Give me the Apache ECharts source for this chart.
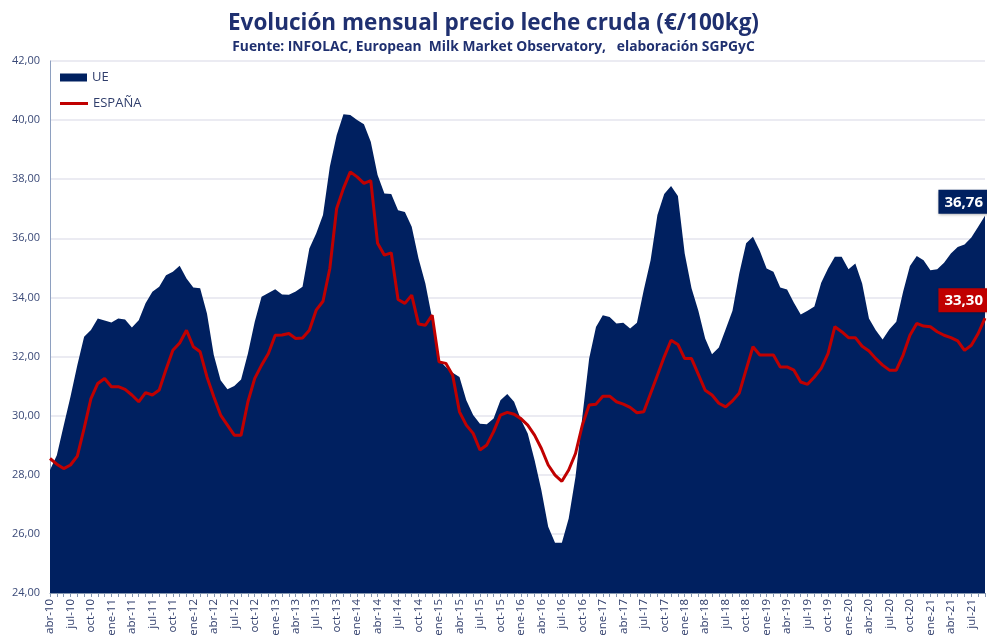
<!DOCTYPE html>
<html>
<head>
<meta charset="utf-8">
<script src="https://cdn.jsdelivr.net/npm/echarts@6/dist/echarts.min.js"></script>
<style>
  html, body { margin: 0; padding: 0; background: #fff; }
  #chart { width: 987px; height: 639px; }
</style>
</head>
<body>
<div id="chart"></div>
<script>
// meses desde abr-10 hasta sep-21
var mesesNombre = ['ene', 'feb', 'mar', 'abr', 'may', 'jun', 'jul', 'ago', 'sep', 'oct', 'nov', 'dic'];
var inicioAnio = 2010, inicioMes = 3, numMeses = 138;

var ue = [
  28.16, 28.66, 29.66, 30.64, 31.71, 32.67, 32.90, 33.29, 33.22, 33.15,
  33.29, 33.25, 32.98, 33.23, 33.80, 34.19, 34.36, 34.75, 34.87, 35.07,
  34.64, 34.34, 34.31, 33.46, 32.05, 31.20, 30.89, 31.00, 31.22, 32.10,
  33.18, 34.02, 34.15, 34.28, 34.10, 34.09, 34.20, 34.36, 35.66, 36.16,
  36.79, 38.42, 39.49, 40.20, 40.17, 40.00, 39.86, 39.27, 38.14, 37.52,
  37.50, 36.95, 36.89, 36.39, 35.32, 34.47, 33.29, 31.88, 31.65, 31.45,
  31.31, 30.52, 30.02, 29.73, 29.71, 29.90, 30.52, 30.73, 30.47, 29.87,
  29.40, 28.50, 27.48, 26.24, 25.70, 25.70, 26.52, 27.93, 29.96, 31.93,
  33.00, 33.40, 33.34, 33.12, 33.14, 32.95, 33.14, 34.25, 35.26, 36.79,
  37.50, 37.77, 37.43, 35.49, 34.31, 33.55, 32.61, 32.08, 32.31, 32.92,
  33.55, 34.82, 35.83, 36.05, 35.58, 34.98, 34.87, 34.34, 34.27, 33.82,
  33.42, 33.55, 33.69, 34.50, 34.98, 35.38, 35.38, 34.95, 35.15, 34.47,
  33.29, 32.89, 32.58, 32.92, 33.18, 34.19, 35.06, 35.40, 35.26, 34.92,
  34.95, 35.17, 35.49, 35.71, 35.79, 36.03, 36.39, 36.76
];

var espana = [
  28.55, 28.36, 28.21, 28.33, 28.63, 29.57, 30.58, 31.09, 31.26, 30.98,
  30.98, 30.89, 30.70, 30.47, 30.78, 30.70, 30.87, 31.56, 32.21, 32.46,
  32.89, 32.33, 32.16, 31.31, 30.64, 30.02, 29.68, 29.34, 29.34, 30.47,
  31.26, 31.71, 32.10, 32.72, 32.73, 32.78, 32.61, 32.63, 32.89, 33.57,
  33.87, 34.98, 37.01, 37.69, 38.25, 38.08, 37.86, 37.95, 35.83, 35.43,
  35.51, 33.93, 33.80, 34.08, 33.10, 33.06, 33.40, 31.82, 31.77, 31.37,
  30.13, 29.68, 29.40, 28.84, 29.01, 29.46, 30.02, 30.11, 30.05, 29.90,
  29.68, 29.34, 28.89, 28.33, 27.99, 27.78, 28.16, 28.72, 29.68, 30.36,
  30.39, 30.66, 30.66, 30.47, 30.39, 30.28, 30.10, 30.13, 30.75, 31.37,
  31.99, 32.55, 32.41, 31.93, 31.93, 31.40, 30.86, 30.70, 30.42, 30.30,
  30.50, 30.77, 31.56, 32.33, 32.05, 32.05, 32.05, 31.65, 31.65, 31.54,
  31.14, 31.06, 31.31, 31.60, 32.10, 33.01, 32.84, 32.64, 32.64, 32.35,
  32.19, 31.93, 31.71, 31.54, 31.54, 32.05, 32.72, 33.12, 33.03, 33.01,
  32.84, 32.72, 32.64, 32.53, 32.21, 32.38, 32.78, 33.30
];

var meses = [];
for (var i = 0; i < numMeses; i++) {
  var m = (inicioMes + i) % 12;
  var a = inicioAnio + Math.floor((inicioMes + i) / 12);
  meses.push(mesesNombre[m] + '-' + String(a).slice(2));
}

var azul = '#002060';
var rojo = '#c00000';
var textoColor = '#2f3d6b';
var fuente = 'Open Sans';
var ultimo = numMeses - 1;

function coma(v) { return v.toFixed(2).replace('.', ','); }

function etiquetaFinal(valor, color, dist) {
  return {
    symbol: 'circle',
    symbolSize: 0,
    data: [{ coord: [ultimo, valor], value: valor }],
    label: {
      show: true,
      position: 'top',
      align: 'right',
      distance: dist,
      offset: [3, 0],
      formatter: function (p) { return coma(p.value); },
      color: '#fff',
      fontFamily: fuente,
      fontWeight: 'bold',
      fontSize: 15,
      backgroundColor: color,
      padding: [5, 5, 4, 6],
      shadowColor: 'rgba(0,0,0,0.35)',
      shadowBlur: 3,
      shadowOffsetX: 1,
      shadowOffsetY: 1
    }
  };
}

var myChart = echarts.init(document.getElementById('chart'));
var option = {
  backgroundColor: '#fff',
  animation: false,
  title: {
    text: 'Evolución mensual precio leche cruda (€/100kg)',
    subtext: 'Fuente: INFOLAC, European  Milk Market Observatory,   elaboración SGPGyC',
    left: 'center',
    top: 7,
    itemGap: 5,
    textStyle: { fontFamily: fuente, fontSize: 22.5, fontWeight: 'bold', color: '#1f3070' },
    subtextStyle: { fontFamily: fuente, fontSize: 13.8, fontWeight: 'bold', color: '#1f3070' }
  },
  legend: [
    {
      data: [{ name: 'UE', icon: 'rect' }],
      left: 55, top: 66,
      itemWidth: 27, itemHeight: 8,
      textStyle: { fontFamily: fuente, fontSize: 13, color: textoColor }
    },
    {
      data: [{ name: 'ESPAÑA', icon: 'rect' }],
      left: 55, top: 92,
      itemWidth: 28, itemHeight: 3,
      textStyle: { fontFamily: fuente, fontSize: 13, color: textoColor }
    }
  ],
  grid: { left: 50, right: 2, top: 61, bottom: 46 },
  xAxis: {
    type: 'category',
    data: meses,
    boundaryGap: false,
    axisLine: { lineStyle: { color: '#8496b0' } },
    axisTick: { show: true, interval: 0, length: 4, lineStyle: { color: '#8496b0' } },
    axisLabel: {
      interval: 2,
      rotate: 90,
      fontFamily: fuente,
      fontSize: 11.5,
      color: textoColor,
      margin: 6
    }
  },
  yAxis: {
    type: 'value',
    min: 24,
    max: 42,
    interval: 2,
    axisLine: { show: true, lineStyle: { color: '#8ea0c0' } },
    axisTick: { show: false },
    splitLine: { lineStyle: { color: '#e4e4ee', width: 1.5 } },
    axisLabel: {
      formatter: function (v) { return coma(v); },
      fontFamily: fuente,
      fontSize: 11,
      color: '#3b4a78',
      margin: 10
    }
  },
  series: [
    {
      name: 'UE',
      type: 'line',
      data: ue,
      symbol: 'none',
      itemStyle: { color: azul },
      lineStyle: { width: 0, color: azul },
      areaStyle: { color: azul, opacity: 1 },
      markPoint: etiquetaFinal(ue[ultimo], azul, 2),
      z: 2
    },
    {
      name: 'ESPAÑA',
      type: 'line',
      data: espana,
      symbol: 'none',
      itemStyle: { color: rojo },
      lineStyle: { width: 3, color: rojo },
      markPoint: etiquetaFinal(espana[ultimo], rojo, 6),
      z: 3
    }
  ]
};
myChart.setOption(option);
window.addEventListener('resize', function () {
  myChart.resize();
});
</script>
</body>
</html>
